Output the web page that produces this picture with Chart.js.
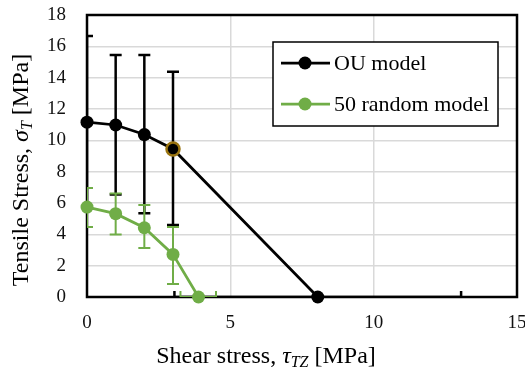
<!DOCTYPE html>
<html>
<head>
<meta charset="utf-8">
<script src="https://cdn.jsdelivr.net/npm/chart.js@4/dist/chart.umd.min.js"></script>
<style>
html,body{margin:0;padding:0;background:#fff;}
#wrap{width:525px;height:372px;position:relative;}
</style>
</head>
<body>
<div id="wrap"><canvas id="c" width="525" height="372"></canvas></div>
<script>
// ---- data ----
const seriesNames = ['OU model', '50 random model'];
const ouX = [0, 1, 2, 3, 8.05];
const ouY = [11.16, 10.98, 10.37, 9.45, 0];
const ouYLow = [5.66, 6.55, 5.35, 4.59, 0];
const ouYHigh = [16.66, 15.44, 15.44, 14.37, 0];
const ouXLow = [0, 1, 2, 3, 3.05];
const ouXHigh = [0, 1, 2, 3, 13.05];
const rndX = [0, 1, 2, 3, 3.89];
const rndY = [5.74, 5.32, 4.42, 2.72, 0];
const rndYLow = [4.47, 3.99, 3.12, 0.83, 0];
const rndYHigh = [6.96, 6.60, 5.87, 4.47, 0];
const rndXLow = [0, 1, 2, 3, 3.26];
const rndXHigh = [0, 1, 2, 3, 4.50];
const xTicks = [0, 5, 10, 15];
const yTicks = [0, 2, 4, 6, 8, 10, 12, 14, 16, 18];

const SERIF = '"Liberation Serif", "Times New Roman", serif';
const BLACK = '#000000';
const GREEN = '#70ad47';

function pts(xs, ys){ return xs.map((x,i)=>({x:x, y:ys[i]})); }

const errSets = [
  {color: BLACK, width: 2.5, x: ouX, y: ouY, yl: ouYLow, yh: ouYHigh, xl: ouXLow, xh: ouXHigh},
  {color: GREEN, width: 2, x: rndX, y: rndY, yl: rndYLow, yh: rndYHigh, xl: rndXLow, xh: rndXHigh}
];

const customDraw = {
  id: 'customDraw',
  beforeDatasetsDraw(chart){
    const ctx = chart.ctx, a = chart.chartArea;
    const xs = chart.scales.x, ys = chart.scales.y;
    ctx.save();
    ctx.strokeStyle = '#000';
    ctx.lineWidth = 2.5;
    ctx.strokeRect(a.left, a.top, a.right - a.left, a.bottom - a.top);
    ctx.restore();
    ctx.save();
    ctx.beginPath();
    ctx.rect(a.left, a.top, a.right - a.left, a.bottom - a.top);
    ctx.clip();
    const cap = 6;
    errSets.forEach(s => {
      ctx.strokeStyle = s.color;
      ctx.lineWidth = s.width;
      s.x.forEach((xv, i) => {
        const px = xs.getPixelForValue(xv), py = ys.getPixelForValue(s.y[i]);
        if (s.yh[i] !== s.yl[i]) {
          const t = ys.getPixelForValue(s.yh[i]), b = ys.getPixelForValue(s.yl[i]);
          ctx.beginPath();
          ctx.moveTo(px, t); ctx.lineTo(px, b);
          ctx.moveTo(px - cap, t); ctx.lineTo(px + cap, t);
          ctx.moveTo(px - cap, b); ctx.lineTo(px + cap, b);
          ctx.stroke();
        }
        if (s.xh[i] !== s.xl[i]) {
          const l = xs.getPixelForValue(s.xl[i]), r = xs.getPixelForValue(s.xh[i]);
          ctx.beginPath();
          ctx.moveTo(l, py); ctx.lineTo(r, py);
          ctx.moveTo(l, py - cap); ctx.lineTo(l, py + cap);
          ctx.moveTo(r, py - cap); ctx.lineTo(r, py + cap);
          ctx.stroke();
        }
      });
    });
    ctx.restore();
  },
  afterDraw(chart){
    const ctx = chart.ctx;
    ctx.save();
    ctx.fillStyle = '#000';
    const big = 24, small = 16;
    const parts = [
      {t: 'Shear stress, ', f: big + 'px ' + SERIF, dy: 0},
      {t: 'τ', f: 'italic ' + big + 'px ' + SERIF, dy: 0},
      {t: 'TZ', f: 'italic ' + small + 'px ' + SERIF, dy: 4},
      {t: ' [MPa]', f: big + 'px ' + SERIF, dy: 0}
    ];
    let total = 0;
    parts.forEach(p => { ctx.font = p.f; p.w = ctx.measureText(p.t).width; total += p.w; });
    let x = 266 - total / 2;
    ctx.textBaseline = 'alphabetic';
    ctx.textAlign = 'left';
    parts.forEach(p => { ctx.font = p.f; ctx.fillText(p.t, x, 363 + p.dy); x += p.w; });
    const yparts = [
      {t: 'Tensile Stress, ', f: big + 'px ' + SERIF, dy: 0},
      {t: 'σ', f: 'italic ' + big + 'px ' + SERIF, dy: 0},
      {t: 'T', f: 'italic ' + small + 'px ' + SERIF, dy: 4},
      {t: ' [MPa]', f: big + 'px ' + SERIF, dy: 0}
    ];
    total = 0;
    yparts.forEach(p => { ctx.font = p.f; p.w = ctx.measureText(p.t).width; total += p.w; });
    ctx.translate(28, 170);
    ctx.rotate(-Math.PI / 2);
    x = -total / 2;
    yparts.forEach(p => { ctx.font = p.f; ctx.fillText(p.t, x, p.dy); x += p.w; });
    ctx.restore();
    // legend
    ctx.save();
    const L = 273, T = 42, R = 498, B = 126;
    ctx.fillStyle = '#fff';
    ctx.fillRect(L, T, R - L, B - T);
    ctx.strokeStyle = '#000';
    ctx.lineWidth = 1.5;
    ctx.strokeRect(L, T, R - L, B - T);
    const rows = [63, 104];
    chart.data.datasets.forEach((ds, i) => {
      const yy = rows[i];
      ctx.strokeStyle = ds.borderColor;
      ctx.lineWidth = 2.75;
      ctx.beginPath(); ctx.moveTo(281, yy); ctx.lineTo(330, yy); ctx.stroke();
      ctx.fillStyle = ds.borderColor;
      ctx.beginPath(); ctx.arc(305, yy, 6.5, 0, Math.PI * 2); ctx.fill();
      ctx.fillStyle = '#000';
      ctx.font = '22px ' + SERIF;
      ctx.textBaseline = 'middle';
      ctx.textAlign = 'left';
      ctx.fillText(ds.label, 334, yy + 1);
    });
    ctx.restore();
  }
};

new Chart(document.getElementById('c'), {
  type: 'scatter',
  data: {
    datasets: [
      {
        label: seriesNames[0],
        data: pts(ouX, ouY),
        showLine: true,
        borderColor: BLACK,
        backgroundColor: BLACK,
        borderWidth: 2.75,
        pointRadius: 6.5,
        pointBorderWidth: [0, 0, 0, 2.5, 0],
        pointBorderColor: [BLACK, BLACK, BLACK, '#9a7410', BLACK],
        pointBackgroundColor: BLACK,
        clip: false
      },
      {
        label: seriesNames[1],
        data: pts(rndX, rndY),
        showLine: true,
        borderColor: GREEN,
        backgroundColor: GREEN,
        borderWidth: 2.75,
        pointRadius: 6.5,
        pointBorderWidth: 0,
        pointBackgroundColor: GREEN,
        clip: false
      }
    ]
  },
  options: {
    responsive: false,
    animation: false,
    layout: {padding: {left: 0, top: 15, right: 8, bottom: 0}},
    plugins: {legend: {display: false}, tooltip: {enabled: false}},
    scales: {
      x: {
        type: 'linear', min: 0, max: 15,
        afterFit(s){ s.height = 75; s.paddingLeft = 0; s.paddingRight = 0; },
        afterBuildTicks(s){ s.ticks = xTicks.map(v => ({value: v})); },
        grid: {color: '#d9d9d9', lineWidth: 1.5, drawTicks: false},
        border: {display: false},
        ticks: {font: {family: SERIF, size: 19}, color: '#111', padding: 15, maxRotation: 0}
      },
      y: {
        type: 'linear', min: 0, max: 18,
        afterFit(s){ s.width = 87; s.paddingTop = 0; s.paddingBottom = 0; },
        afterBuildTicks(s){ s.ticks = yTicks.map(v => ({value: v})); },
        grid: {color: '#d9d9d9', lineWidth: 1.5, drawTicks: false},
        border: {display: false},
        ticks: {font: {family: SERIF, size: 19}, color: '#111', padding: 21}
      }
    }
  },
  plugins: [customDraw]
});
</script>
</body>
</html>
